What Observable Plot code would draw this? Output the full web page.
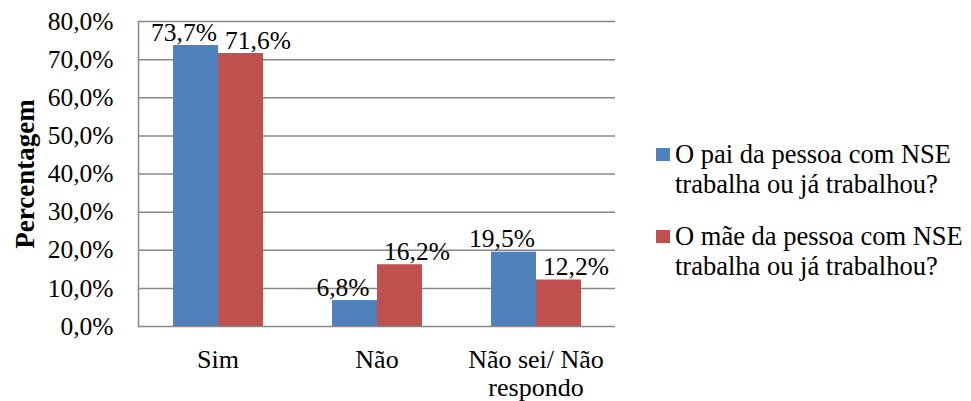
<!DOCTYPE html>
<html>
<head>
<meta charset="utf-8">
<script src="https://cdn.jsdelivr.net/npm/d3@7"></script>
<script src="https://cdn.jsdelivr.net/npm/@observablehq/plot@0.6"></script>
<style>
  body { margin: 0; background: #fff; font-family: "Liberation Serif", "Times New Roman", serif; }
  #wrap { position: relative; width: 971px; height: 401px; }
  #legend { position: absolute; left: 656px; top: 139px; font-size: 26.5px; line-height: 30px; color: #000; white-space: nowrap; }
  .item { display: flex; align-items: flex-start; margin-bottom: 22px; }
  .sw { width: 14px; height: 13px; margin-top: 9px; margin-right: 5px; flex: none; }
</style>
</head>
<body>
<div id="wrap"><div id="chart"></div><div id="legend"></div></div>
<script>
const categories = ["Sim", "Não", "Não sei/ Não respondo"];
const categoryLabels = ["Sim", "Não", "Não sei/ Não\nrespondo"];
const series = ["O pai da pessoa com NSE trabalha ou já trabalhou?", "O mãe da pessoa com NSE trabalha ou já trabalhou?"];
const seriesLegend = ["O pai da pessoa com NSE<br>trabalha ou já trabalhou?", "O mãe da pessoa com NSE<br>trabalha ou já trabalhou?"];
const paiValues = [73.7, 6.8, 19.5];
const maeValues = [71.6, 16.2, 12.2];
const yTicks = [0, 10, 20, 30, 40, 50, 60, 70, 80];
const colors = ["#4F81BD", "#C0504D"];
const yLabel = "Percentagem";

const data = [];
categories.forEach((c, i) => {
  data.push({category: c, series: series[0], value: paiValues[i]});
  data.push({category: c, series: series[1], value: maeValues[i]});
});
const fmt = v => v.toFixed(1).replace(".", ",") + "%";
const font = "Liberation Serif, Times New Roman, serif";

const chart = Plot.plot({
  width: 640, height: 401,
  marginLeft: 137, marginRight: 25, marginTop: 21, marginBottom: 75,
  style: {fontFamily: font, fontSize: "25px", color: "#000", background: "#fff", overflow: "visible"},
  fx: {domain: categories, paddingInner: 0, paddingOuter: 0, axis: null, label: null},
  x: {domain: series, paddingInner: 0, paddingOuter: 0.75, axis: null, label: null},
  y: {domain: [0, 80], axis: null},
  color: {domain: series, range: colors},
  marks: [
    Plot.gridY(yTicks, {stroke: "#888", strokeOpacity: 1, strokeWidth: 1.5}),
    Plot.frame({anchor: "left", stroke: "#888", strokeWidth: 1.5, facet: "super"}),
    Plot.barY(data, {fx: "category", x: "series", y: "value", fill: "series"}),
    Plot.text(data.filter(d => d.series === series[0]), {fx: "category", x: "series", y: "value", text: d => fmt(d.value), lineAnchor: "bottom", dy: -5, dx: -12, fontSize: 25.5, fill: "#000"}),
    Plot.text(data.filter(d => d.series === series[1]), {fx: "category", x: "series", y: "value", text: d => fmt(d.value), lineAnchor: "bottom", dy: -5, dx: 17, fontSize: 25.5, fill: "#000"}),
    Plot.text(categories, {fx: d => d, text: (d, i) => categoryLabels[i], frameAnchor: "bottom", lineAnchor: "top", dy: 22, fontSize: 26, lineHeight: 1.07, fill: "#000"}),
    Plot.axisY(yTicks, {tickSize: 0, tickPadding: 25, tickFormat: fmt, fontSize: 25.5, label: null}),
    Plot.text([yLabel], {frameAnchor: "left", textAnchor: "middle", rotate: -90, dx: -113, fontSize: 27, fontWeight: "bold", fill: "#000", facet: "super"})
  ]
});
document.getElementById("chart").appendChild(chart);

const legend = document.getElementById("legend");
seriesLegend.forEach((s, i) => {
  const item = document.createElement("div");
  item.className = "item";
  item.innerHTML = `<div class="sw" style="background:${colors[i]}"></div><div>${s}</div>`;
  legend.appendChild(item);
});
</script>
</body>
</html>
